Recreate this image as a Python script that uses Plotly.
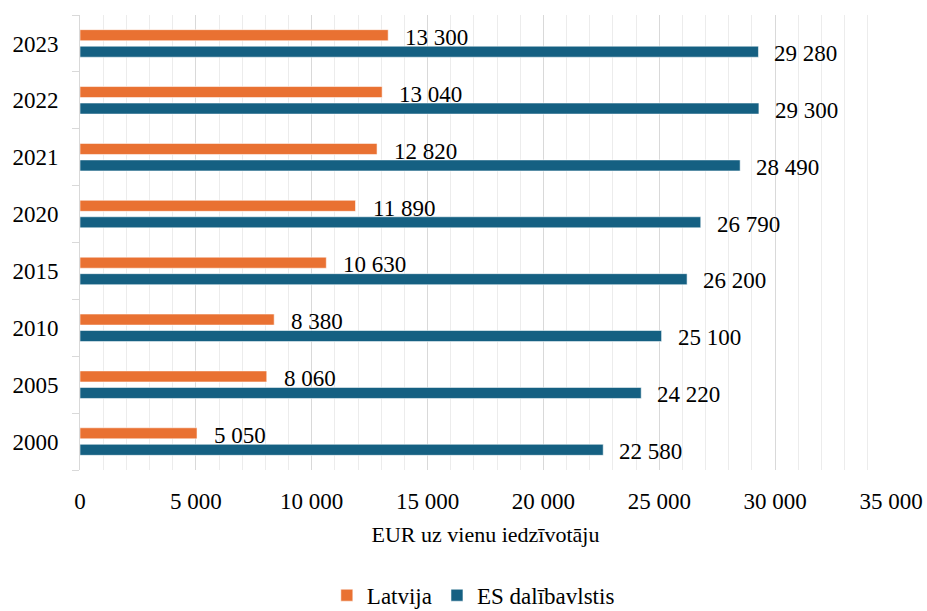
import plotly.graph_objects as go

years = ["2000", "2005", "2010", "2015", "2020", "2021", "2022", "2023"]
latvija = [5050, 8060, 8380, 10630, 11890, 12820, 13040, 13300]
es = [22580, 24220, 25100, 26200, 26790, 28490, 29300, 29280]
series_names = ["Latvija", "ES dalībavlstis"]
x_title = "EUR uz vienu iedzīvotāju"

ORANGE = "#E97132"
BLUE = "#156082"
FONT = "Liberation Serif, Times New Roman, serif"
FS = 23

def fmt(v):
    return f"{v:,}".replace(",", " ")

fig = go.Figure()
fig.add_trace(go.Bar(
    y=years, x=es, name=series_names[1], orientation="h",
    marker=dict(color=BLUE, line=dict(color="rgba(255,255,255,0.55)", width=1)),
))
fig.add_trace(go.Bar(
    y=years, x=latvija, name=series_names[0], orientation="h",
    marker=dict(color=ORANGE, line=dict(color="rgba(255,255,255,0.55)", width=1)),
))

annotations = []
for i, v in enumerate(latvija):
    annotations.append(dict(x=v, y=i, xref="x", yref="y", text=fmt(v), showarrow=False,
                            xanchor="left", yanchor="middle", xshift=15, yshift=6,
                            font=dict(family=FONT, size=FS, color="#000")))
for i, v in enumerate(es):
    annotations.append(dict(x=v, y=i, xref="x", yref="y", text=fmt(v), showarrow=False,
                            xanchor="left", yanchor="middle", xshift=14, yshift=-10,
                            font=dict(family=FONT, size=FS, color="#000")))

fig.update_layout(
    width=927, height=611,
    margin=dict(l=80, r=36, t=15, b=141, autoexpand=False),
    paper_bgcolor="white", plot_bgcolor="white",
    barmode="group", bargap=0.42, bargroupgap=0.33,
    separators=", ",
    font=dict(family=FONT, size=FS, color="#000"),
    showlegend=True,
    legend=dict(orientation="h", x=0.485, xanchor="center", y=-0.228, yanchor="top",
                traceorder="reversed", font=dict(family=FONT, size=FS, color="#000"),
                itemwidth=30),
    annotations=annotations,
)
fig.update_xaxes(
    range=[0, 35000], dtick=5000, tickformat=",d",
    showgrid=True, gridcolor="#d9d9d9", gridwidth=1,
    minor=dict(dtick=1000, showgrid=True, gridcolor="#ececec", gridwidth=1),
    zeroline=False, showline=False,
    ticks="", ticklabelstandoff=15,
    title=dict(text=x_title, font=dict(family=FONT, size=22, color="#000"), standoff=13),
    fixedrange=True,
)
fig.update_yaxes(
    type="category", categoryorder="array", categoryarray=years,
    range=[-0.5, len(years) - 0.5], autorange=False,
    showgrid=False, showline=True, linecolor="#d9d9d9", linewidth=1,
    ticks="outside", tickson="boundaries", ticklen=7, tickcolor="#d9d9d9",
    ticklabelstandoff=16,
    fixedrange=True,
)

fig.write_html("out.html")
